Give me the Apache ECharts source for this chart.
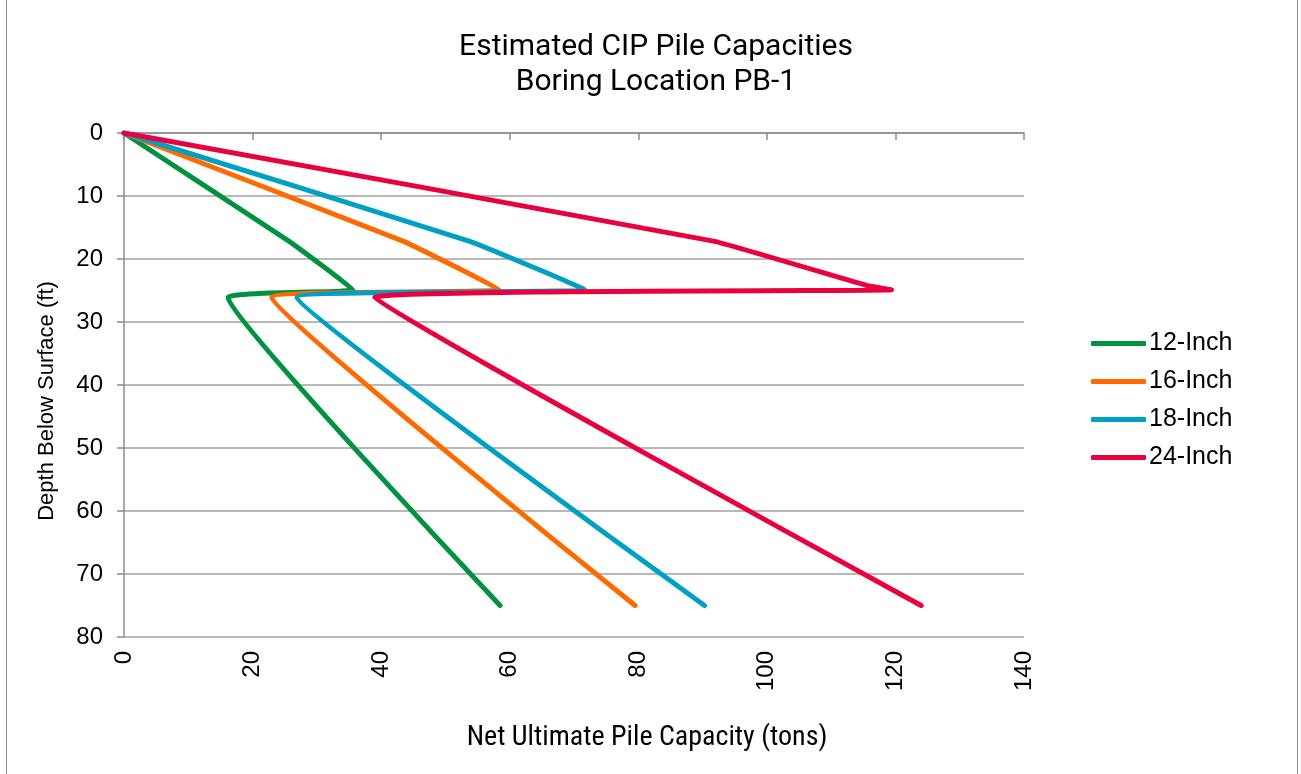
<!DOCTYPE html>
<html><head><meta charset="utf-8">
<script src="https://cdn.jsdelivr.net/npm/echarts@6/dist/echarts.min.js"></script>
<style>html,body{margin:0;padding:0;background:#fff}#c{width:1301px;height:774px}</style>
</head><body><div id="c"></div>
<script>
const seriesNames = ['12-Inch', '16-Inch', '18-Inch', '24-Inch'];
const colors = ['#00923F', '#FF6A00', '#00A0C4', '#E8003F'];
// [capacity (tons), depth (ft)]
const pile12 = [[0,0],[25.7,17.2],[35.6,24.9],[16.2,26.1],[58.5,75]];
const pile16 = [[0,0],[43.5,17.2],[58.4,24.9],[23,26.1],[79.5,75]];
const pile18 = [[0,0],[53.8,17.2],[71.7,24.9],[26.9,26.1],[90.3,75]];
const pile24 = [[0,0],[91.9,17.2],[115.5,24.2],[119.4,24.9],[39,26.1],[124,75]];
const xTicks = {min:0, max:140, interval:20};
const yTicks = {min:0, max:80, interval:10};
const allData = [pile12, pile16, pile18, pile24];

const SANS = "'Liberation Sans', Arial, sans-serif";
const chart = echarts.init(document.getElementById('c'));
chart.setOption({
  animation:false,
  backgroundColor:'#fff',
  title:{
    text:'Estimated CIP Pile Capacities\nBoring Location PB-1',
    left:651, top:25, textAlign:'center',
    textStyle:{fontFamily:"'Roboto', sans-serif", fontSize:30, fontWeight:'normal', color:'#000', lineHeight:35}
  },
  graphic:[{type:'rect', shape:{x:6.5,y:-2,width:1291,height:780}, style:{fill:'none', stroke:'#8c8c8c', lineWidth:1}, silent:true}],
  legend:{
    orient:'vertical', left:1086, top:326, itemWidth:55, itemHeight:5, itemGap:13,
    icon:'roundRect',
    data:seriesNames,
    textStyle:{fontFamily:SANS, fontSize:25, color:'#000', padding:[0,0,0,-2]}
  },
  grid:{left:124, right:277, top:133, bottom:137},
  xAxis:{
    type:'value', min:xTicks.min, max:xTicks.max, interval:xTicks.interval,
    name:'Net Ultimate Pile Capacity (tons)', nameLocation:'middle', nameGap:87,
    nameTextStyle:{fontFamily:"'Liberation Sans Narrow', 'Roboto Condensed', 'Liberation Sans', sans-serif", fontSize:28, color:'#000', padding:[0,0,0,146]},
    axisLine:{show:true, lineStyle:{color:'#8c8c8c', width:1.5}},
    axisTick:{show:true, length:7, lineStyle:{color:'#8c8c8c', width:1.5}},
    splitLine:{show:false},
    axisLabel:{rotate:90, margin:14, fontFamily:SANS, fontSize:24, color:'#000'}
  },
  yAxis:{
    type:'value', inverse:true, min:yTicks.min, max:yTicks.max, interval:yTicks.interval,
    name:'Depth Below Surface (ft)', nameLocation:'middle', nameGap:66, nameRotate:90,
    nameTextStyle:{fontFamily:SANS, fontSize:22, color:'#000', padding:[0,32,0,0]},
    axisLine:{show:true, lineStyle:{color:'#8c8c8c', width:1.5}},
    axisTick:{show:true, length:7, lineStyle:{color:'#8c8c8c', width:1.5}},
    splitLine:{show:true, lineStyle:{color:'#a0a0a0', width:1.5}},
    axisLabel:{margin:21, fontFamily:SANS, fontSize:24, color:'#000'}
  },
  series: seriesNames.map((n,i)=>({
    name:n, type:'line', data:allData[i], symbol:'none', smooth:0.08,
    color:colors[i],
    lineStyle:{width:5, color:colors[i], cap:'round', join:'round'}
  }))
});
</script></body></html>
